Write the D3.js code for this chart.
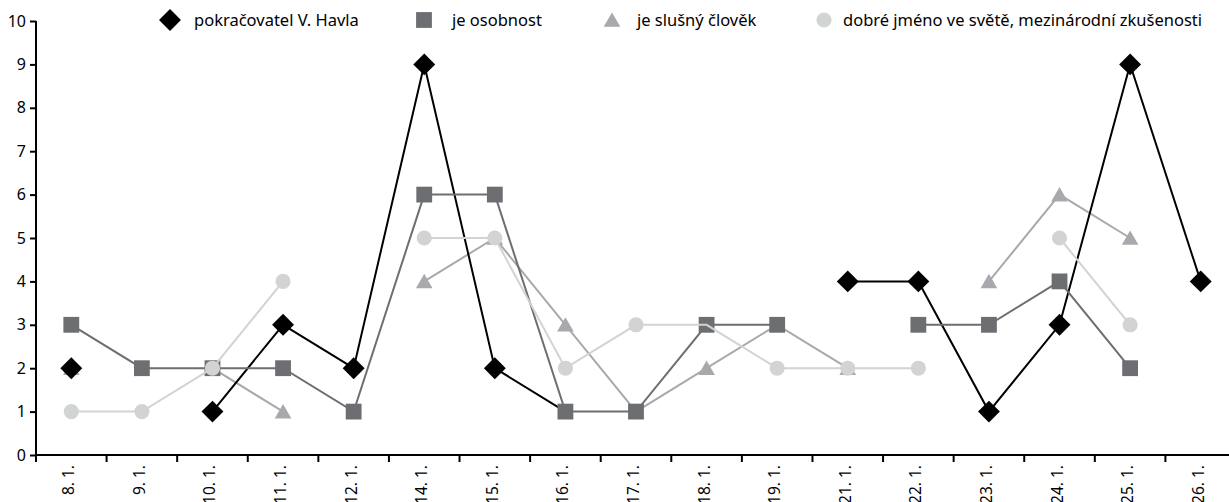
<!DOCTYPE html>
<html>
<head>
<meta charset="utf-8">
<script src="https://cdn.jsdelivr.net/npm/d3@7"></script>
<style>
  body { margin: 0; background: #fff; }
  svg { display: block; font-family: "Noto Sans", sans-serif; }
</style>
</head>
<body>
<svg id="chart" width="1229" height="502"></svg>
<script>
'use strict';

// data (null = no point that day)
var days = ["8. 1.", "9. 1.", "10. 1.", "11. 1.", "12. 1.", "14. 1.", "15. 1.", "16. 1.", "17. 1.",
            "18. 1.", "19. 1.", "21. 1.", "22. 1.", "23. 1.", "24. 1.", "25. 1.", "26. 1."];
var havel    = [2, null, 1, 3, 2, 9, 2, 1, null, null, null, 4, 4, 1, 3, 9, 4];
var osobnost = [3, 2, 2, 2, 1, 6, 6, 1, 1, 3, 3, null, 3, 3, 4, 2, null];
var slusny   = [2, null, 2, 1, null, 4, 5, 3, 1, 2, 3, 2, null, 4, 6, 5, null];
var jmeno    = [1, 1, 2, 4, null, 5, 5, 2, 3, 3, 2, 2, 2, null, 5, 3, null];
var yTicks = [0, 1, 2, 3, 4, 5, 6, 7, 8, 9, 10];
// points whose marker is hidden under another series in the original
var havelHidden = ["16. 1."];
var jmenoHidden = ["18. 1."];

var series = [
  { name: "pokračovatel V. Havla", values: havel, hidden: havelHidden, color: "#000000", shape: "diamond" },
  { name: "je osobnost", values: osobnost, hidden: [], color: "#6d6e71", shape: "square" },
  { name: "je slušný člověk", values: slusny, hidden: [], color: "#a7a9ac", shape: "triangle" },
  { name: "dobré jméno ve světě, mezinárodní zkušenosti", values: jmeno, hidden: jmenoHidden, color: "#d1d3d4", shape: "circle" }
];
// draw order so overlapping markers stack like the original
var drawOrder = [2, 0, 1, 3];

var svg = d3.select("#chart");
var x = d3.scaleBand().domain(days).range([36, 1236]);
var y = d3.scaleLinear().domain([0, 10]).range([455, 21]);

function symbolFor(shape) {
  if (shape == "diamond") return d3.symbol().type(d3.symbolSquare).size(240)();
  if (shape == "square") return d3.symbol().type(d3.symbolSquare).size(250)();
  if (shape == "triangle") return d3.symbol().type(d3.symbolTriangle).size(120)();
  return d3.symbol().type(d3.symbolCircle).size(180)();
}

// axes
var yAxis = svg.append("g").attr("transform", "translate(36,0)")
  .call(d3.axisLeft(y).tickValues(yTicks).tickSize(6).tickPadding(4).tickFormat(d3.format("d")));
yAxis.select(".domain").attr("stroke-width", 2).attr("d", "M0," + y(10) + "V" + y(0));
yAxis.selectAll(".tick line").attr("stroke-width", 2);
yAxis.selectAll("text").attr("font-size", 16).attr("fill", "#000").attr("font-family", "Noto Sans");

var xAxis = svg.append("g").attr("transform", "translate(0,455)");
xAxis.append("line").attr("x1", 36).attr("x2", 1229).attr("stroke", "#000").attr("stroke-width", 2);
var bounds = days.map(function(d) { return x(d); });
xAxis.selectAll(".xt").data(bounds).enter().append("line")
  .attr("x1", function(d) { return d; }).attr("x2", function(d) { return d; })
  .attr("y1", 0).attr("y2", 7).attr("stroke", "#000").attr("stroke-width", 2);
xAxis.selectAll(".xl").data(days).enter().append("text")
  .attr("transform", function(d) { return "translate(" + (x(d) + x.bandwidth() / 2 + 3) + ",10) rotate(-90)"; })
  .attr("text-anchor", "end").attr("font-size", 15.5).text(function(d) { return d; });

// series
var line = d3.line()
  .defined(function(d) { return d != null; })
  .x(function(d, i) { return x(days[i]) + x.bandwidth() / 2; })
  .y(function(d) { return y(d); });

for (const k of drawOrder) {
  var s = series[k];
  var g = svg.append("g");
  g.append("path").attr("d", line(s.values)).attr("fill", "none")
    .attr("stroke", s.color).attr("stroke-width", 2);
  var pts = s.values.map(function(v, i) { return { v: v, i: i }; })
    .filter(function(p) { return p.v != null && s.hidden.indexOf(days[p.i]) < 0; });
  g.selectAll("path.m").data(pts)
    .enter().append("path").attr("class", "m")
    .attr("d", symbolFor(s.shape))
    .attr("fill", s.color)
    .attr("transform", function(p) {
      var t = "translate(" + (x(days[p.i]) + x.bandwidth() / 2) + "," + y(p.v) + ")";
      if (s.shape == "triangle") t += " translate(0,2)";
      return s.shape == "diamond" ? t + " rotate(45)" : t;
    });
}

// legend
var legX = [170, 424, 612, 824];
var legTx = [194, 452, 637, 843];
series.forEach(function(s, k) {
  var t = "translate(" + legX[k] + ",20)";
  if (s.shape == "diamond") t += " rotate(45)";
  if (s.shape == "triangle") t += " translate(0,2)";
  svg.append("path").attr("d", symbolFor(s.shape)).attr("fill", s.color).attr("transform", t);
  svg.append("text").attr("x", legTx[k]).attr("y", 26).attr("font-size", 16.5).text(s.name);
});
</script>
</body>
</html>
